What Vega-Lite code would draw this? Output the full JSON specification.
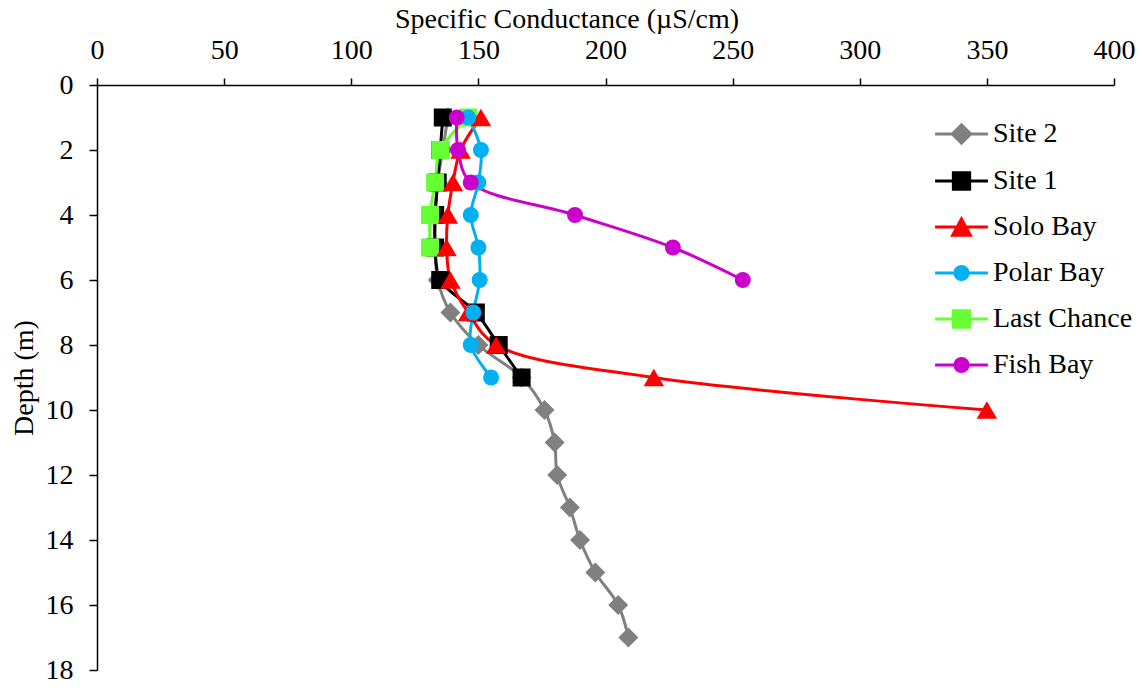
{
  "$schema": "https://vega.github.io/schema/vega-lite/v6.json",
  "width": 1017,
  "height": 585,
  "autosize": {"type": "none"},
  "padding": {"left": 97, "top": 85, "right": 28, "bottom": 18},
  "background": "white",
  "config": {
    "view": {"stroke": null},
    "font": "Liberation Serif",
    "axis": {
      "grid": false,
      "domainColor": "black",
      "domainWidth": 1.5,
      "tickColor": "black",
      "tickWidth": 1.5,
      "labelFont": "Liberation Serif",
      "labelFontSize": 28,
      "labelColor": "black",
      "titleFont": "Liberation Serif",
      "titleFontSize": 28,
      "titleFontWeight": "normal",
      "titleColor": "black"
    },
    "legend": {
      "labelFont": "Liberation Serif",
      "labelFontSize": 28,
      "labelColor": "black"
    }
  },
  "data": {
    "values": [
      {"site": "Site 2", "depth": 1, "sc": 138},
      {"site": "Site 2", "depth": 2, "sc": 136},
      {"site": "Site 2", "depth": 3, "sc": 134},
      {"site": "Site 2", "depth": 4, "sc": 133},
      {"site": "Site 2", "depth": 5, "sc": 133},
      {"site": "Site 2", "depth": 6, "sc": 134},
      {"site": "Site 2", "depth": 7, "sc": 139},
      {"site": "Site 2", "depth": 8, "sc": 150},
      {"site": "Site 2", "depth": 9, "sc": 167},
      {"site": "Site 2", "depth": 10, "sc": 176},
      {"site": "Site 2", "depth": 11, "sc": 180},
      {"site": "Site 2", "depth": 12, "sc": 181},
      {"site": "Site 2", "depth": 13, "sc": 186},
      {"site": "Site 2", "depth": 14, "sc": 190},
      {"site": "Site 2", "depth": 15, "sc": 196},
      {"site": "Site 2", "depth": 16, "sc": 205},
      {"site": "Site 2", "depth": 17, "sc": 209},
      {"site": "Site 1", "depth": 1, "sc": 136},
      {"site": "Site 1", "depth": 2, "sc": 135},
      {"site": "Site 1", "depth": 3, "sc": 134},
      {"site": "Site 1", "depth": 4, "sc": 133},
      {"site": "Site 1", "depth": 5, "sc": 133},
      {"site": "Site 1", "depth": 6, "sc": 135},
      {"site": "Site 1", "depth": 7, "sc": 149},
      {"site": "Site 1", "depth": 8, "sc": 158},
      {"site": "Site 1", "depth": 9, "sc": 167},
      {"site": "Solo Bay", "depth": 1, "sc": 151},
      {"site": "Solo Bay", "depth": 2, "sc": 143},
      {"site": "Solo Bay", "depth": 3, "sc": 140},
      {"site": "Solo Bay", "depth": 4, "sc": 138},
      {"site": "Solo Bay", "depth": 5, "sc": 137.5},
      {"site": "Solo Bay", "depth": 6, "sc": 139},
      {"site": "Solo Bay", "depth": 7, "sc": 146},
      {"site": "Solo Bay", "depth": 8, "sc": 157},
      {"site": "Solo Bay", "depth": 9, "sc": 219},
      {"site": "Solo Bay", "depth": 10, "sc": 350},
      {"site": "Polar Bay", "depth": 1, "sc": 146},
      {"site": "Polar Bay", "depth": 2, "sc": 151},
      {"site": "Polar Bay", "depth": 3, "sc": 150},
      {"site": "Polar Bay", "depth": 4, "sc": 147},
      {"site": "Polar Bay", "depth": 5, "sc": 150},
      {"site": "Polar Bay", "depth": 6, "sc": 150.5},
      {"site": "Polar Bay", "depth": 7, "sc": 148},
      {"site": "Polar Bay", "depth": 8, "sc": 147},
      {"site": "Polar Bay", "depth": 9, "sc": 155},
      {"site": "Last Chance", "depth": 1, "sc": 146},
      {"site": "Last Chance", "depth": 2, "sc": 135},
      {"site": "Last Chance", "depth": 3, "sc": 133},
      {"site": "Last Chance", "depth": 4, "sc": 131},
      {"site": "Last Chance", "depth": 5, "sc": 131},
      {"site": "Fish Bay", "depth": 1, "sc": 141.5},
      {"site": "Fish Bay", "depth": 2, "sc": 142},
      {"site": "Fish Bay", "depth": 3, "sc": 147},
      {"site": "Fish Bay", "depth": 4, "sc": 188},
      {"site": "Fish Bay", "depth": 5, "sc": 226.5},
      {"site": "Fish Bay", "depth": 6, "sc": 254}
    ]
  },
  "encoding": {
    "x": {
      "field": "sc",
      "type": "quantitative",
      "scale": {"domain": [0, 400], "nice": false, "zero": false},
      "axis": {
        "orient": "top",
        "title": "Specific Conductance (µS/cm)",
        "values": [0, 50, 100, 150, 200, 250, 300, 350, 400],
        "tickSize": 7,
        "labelPadding": 20,
        "labelBaseline": "alphabetic",
        "labelFlush": false,
        "labelOverlap": false,
        "titleX": 469.5,
        "titleY": -58,
        "titleAnchor": null,
        "titleAlign": "center",
        "titleBaseline": "alphabetic"
      }
    },
    "y": {
      "field": "depth",
      "type": "quantitative",
      "scale": {"domain": [0, 18], "nice": false, "reverse": true},
      "axis": {
        "title": "Depth (m)",
        "values": [0, 2, 4, 6, 8, 10, 12, 14, 16, 18],
        "tickSize": 8,
        "labelPadding": 16,
        "labelFlush": false,
        "labelOverlap": false,
        "titleX": -73,
        "titleY": 292.5,
        "titleAngle": -90,
        "titleAlign": "center",
        "titleBaseline": "middle"
      }
    },
    "color": {
      "field": "site",
      "type": "nominal",
      "scale": {
        "domain": ["Site 2", "Site 1", "Solo Bay", "Polar Bay", "Last Chance", "Fish Bay"],
        "range": ["#808080", "#000000", "#FF0000", "#00B0F0", "#66FF33", "#CC00CC"]
      },
      "legend": {
        "title": null,
        "orient": "none",
        "legendX": 841,
        "legendY": 25.5,
        "padding": 0,
        "symbolSize": 1936,
        "symbolStrokeWidth": 3,
        "rowPadding": 8,
        "labelOffset": 8,
        "labelFontSize": 28,
        "labelBaseline": "middle",
        "encode": {
          "symbols": {
            "update": {
              "shape": {"signal": "datum.value === 'Site 2' ? 'M-1.2,0H1.2M0,-0.42L0.42,0L0,0.42L-0.42,0Z' : (datum.value === 'Site 1' || datum.value === 'Last Chance') ? 'M-1.2,0H1.2M-0.37,-0.37H0.37V0.37H-0.37Z' : datum.value === 'Solo Bay' ? 'M-1.2,0H1.2M0,-0.37L0.4,0.37H-0.4Z' : 'M-1.2,0H1.2M0.3,0A0.3,0.3,0,1,1,-0.3,0A0.3,0.3,0,1,1,0.3,0Z'"},
              "fill": {"signal": "scale('color', datum.value)"},
              "stroke": {"signal": "scale('color', datum.value)"},
              "strokeWidth": {"value": 3},
              "opacity": {"value": 1},
              "fillOpacity": {"value": 1},
              "strokeOpacity": {"value": 1}
            }
          }
        }
      }
    }
  },
  "layer": [
    {
      "mark": {"type": "line", "strokeWidth": 3, "interpolate": "catmull-rom"},
      "encoding": {
        "order": {"field": "depth", "type": "quantitative"}
      }
    },
    {
      "transform": [{"filter": {"field": "site", "equal": "Site 2"}}],
      "mark": {"type": "point", "shape": "diamond", "filled": true, "size": 400, "opacity": 1}
    },
    {
      "transform": [{"filter": {"field": "site", "oneOf": ["Site 1", "Last Chance"]}}],
      "mark": {"type": "point", "shape": "square", "filled": true, "size": 324, "opacity": 1}
    },
    {
      "transform": [{"filter": {"field": "site", "equal": "Solo Bay"}}],
      "mark": {"type": "point", "shape": "triangle-up", "filled": true, "size": 420, "opacity": 1}
    },
    {
      "transform": [{"filter": {"field": "site", "oneOf": ["Polar Bay", "Fish Bay"]}}],
      "mark": {"type": "point", "shape": "circle", "filled": true, "size": 256, "opacity": 1}
    }
  ]
}
